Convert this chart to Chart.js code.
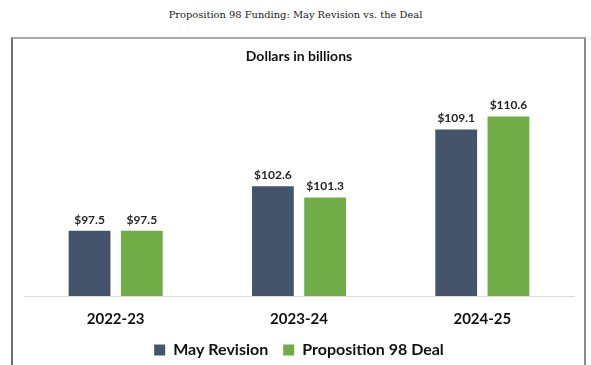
<!DOCTYPE html>
<html>
<head>
<meta charset="utf-8">
<script src="https://cdn.jsdelivr.net/npm/chart.js@4"></script>
<style>
  html, body { margin: 0; padding: 0; background: #ffffff; }
  body { width: 591px; height: 365px; position: relative; overflow: hidden; }
  #heading {
    position: absolute; left: 0; top: 9px; width: 591px; text-align: center;
    font-family: "DejaVu Serif", serif; font-size: 9.9px; line-height: 12px; color: #222222;
  }
  #frame {
    position: absolute; left: 11px; top: 37px; width: 571px; height: 340px;
    border-top: 2px solid #a9a9a9; border-left: 2px solid #707070; border-right: 2px solid #8c8c8c;
  }
  #wrap { position: absolute; left: 0; top: 0; width: 591px; height: 370px; }
</style>
</head>
<body>
<div id="heading">Proposition 98 Funding: May Revision vs. the Deal</div>
<div id="frame"></div>
<div id="wrap"><canvas id="chart" width="591" height="370"></canvas></div>
<script>
// Fiscal years and Proposition 98 funding levels (dollars in billions)
const years = ["2022-23", "2023-24", "2024-25"];
const mayRevision = [97.5, 102.6, 109.1];
const deal = [97.5, 101.3, 110.6];
const seriesNames = ["May Revision", "Proposition 98 Deal"];
const seriesColors = ["#44546A", "#70AD47"];

const labelFont = '"Lato", "Open Sans", sans-serif';

// Writes the dollar amount above each bar
const valueLabels = {
  id: "valueLabels",
  afterDatasetsDraw(chart) {
    const ctx = chart.ctx;
    ctx.save();
    ctx.font = "bold 12px " + labelFont;
    ctx.fillStyle = "#262626";
    ctx.textAlign = "center";
    ctx.textBaseline = "bottom";
    chart.data.datasets.forEach((ds, i) => {
      chart.getDatasetMeta(i).data.forEach((bar, j) => {
        ctx.fillText("$" + ds.data[j].toFixed(1), bar.x, bar.y - 5);
      });
    });
    ctx.restore();
  }
};

new Chart(document.getElementById("chart"), {
  type: "bar",
  data: {
    labels: years,
    datasets: [
      { label: seriesNames[0], data: mayRevision, backgroundColor: seriesColors[0] },
      { label: seriesNames[1], data: deal, backgroundColor: seriesColors[1] }
    ]
  },
  options: {
    responsive: false,
    animation: false,
    devicePixelRatio: 1,
    layout: { padding: { left: 24, right: 17, top: 48, bottom: 2 } },
    datasets: { bar: { categoryPercentage: 0.57, barPercentage: 0.8 } },
    scales: {
      x: {
        grid: { display: false, drawTicks: false },
        border: { display: true, color: "#d9d9d9", width: 1 },
        ticks: {
          padding: 14,
          color: "#111111",
          font: { family: labelFont, size: 15, weight: "bold" }
        },
        // keep the band between the baseline and the legend fixed
        afterFit(scale) { scale.height = 31; }
      },
      y: {
        display: false,
        min: 90,
        max: 115
      }
    },
    plugins: {
      title: {
        display: true,
        text: "Dollars in billions",
        color: "#111111",
        font: { family: labelFont, size: 14, weight: "bold" },
        padding: { top: 0, bottom: 13.4 }
      },
      legend: {
        position: "bottom",
        labels: {
          boxWidth: 11,
          boxHeight: 11,
          padding: 15,
          color: "#111111",
          font: { family: labelFont, size: 16, weight: "bold" }
        }
      },
      tooltip: { enabled: false }
    }
  },
  plugins: [valueLabels]
});
</script>
</body>
</html>
